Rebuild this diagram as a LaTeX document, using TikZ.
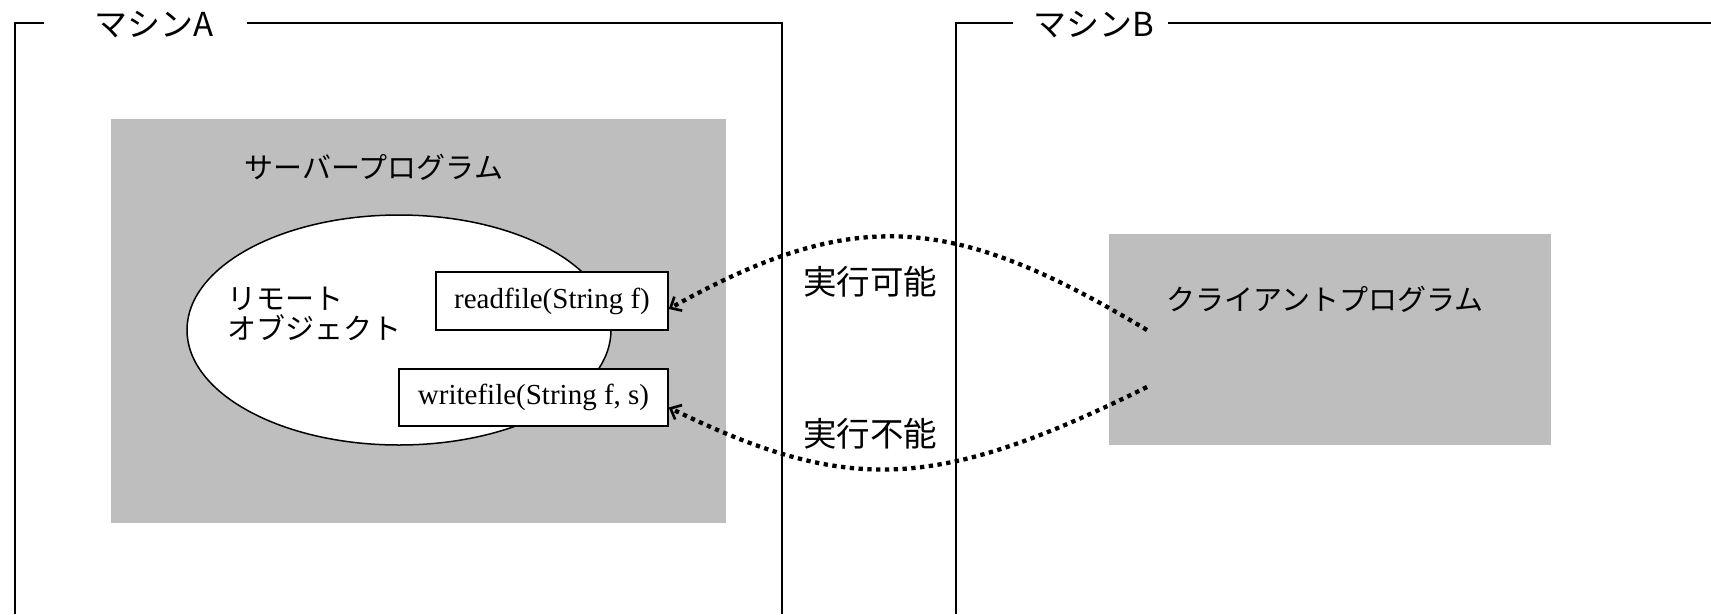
\documentclass[tikz,border=0pt]{standalone}
\usepackage{fontspec}
\setmainfont{Liberation Serif}
\newfontfamily\jp{Noto Sans CJK JP}
\usetikzlibrary{shapes.geometric,arrows.meta}
\definecolor{boxgray}{RGB}{190,190,190}
\tikzset{
  frameline/.style={line width=1.8pt},
  grayrect/.style={fill=boxgray, draw=none, inner sep=0pt},
  methodbox/.style={draw, fill=white, line width=1.5pt, inner sep=0pt, font=\fontsize{29}{32}\selectfont},
  jptext/.style={font=\jp\fontsize{29}{32}\selectfont, inner sep=0pt},
  titlejp/.style={font=\jp\fontsize{33}{36}\selectfont, inner sep=0pt},
  bigjp/.style={font=\jp\fontsize{33.5}{36}\selectfont, inner sep=0pt},
  dotcall/.style={line width=4.3pt, dash pattern=on 4.3pt off 4.5pt,
    -{Straight Barb[line width=2.6pt, length=9pt, width=16pt]}}
}
\begin{document}
\begin{tikzpicture}[x=1pt,y=-1pt]
\useasboundingbox (0,0) rectangle (1711,614);
% machine frames
\node[titlejp] (ma) at (154,25) {マシンA};
\node[titlejp] (mb) at (1094,25) {マシンB};
\draw[frameline] (44,23) -- (15,23) -- (15,614);
\draw[frameline] (247,23) -- (782,23) -- (782,614);
\draw[frameline] (1013,23) -- (956,23) -- (956,614);
\draw[frameline] (1168,23) -- (1711,23);
% server program
\node[grayrect, minimum width=615pt, minimum height=404pt] (server) at (418.5,321) {};
\node[jptext] (srvlabel) at (374,167) {サーバープログラム};
\node[ellipse, draw, fill=white, line width=1.5pt, minimum width=424pt, minimum height=230pt] (obj) at (399,330) {};
\node[jptext, anchor=west, align=left, font=\jp\fontsize{29}{29.5}\selectfont] (objlabel) at (227,314) {リモート\\オブジェクト};
\node[methodbox, minimum width=232pt, minimum height=58pt] (rf) at (552,301) {readfile(String f)};
\node[methodbox, minimum width=269pt, minimum height=57pt] (wf) at (533.5,397.5) {writefile(String f, s)};
% client program
\node[grayrect, minimum width=442pt, minimum height=211pt] (client) at (1330,339.5) {};
\node[jptext] (clabel) at (1325,299) {クライアントプログラム};
\coordinate (cs1) at (1147,330);
\coordinate (cs2) at (1147,387);
% calls
\draw[dotcall] (cs1) .. controls (955,215) and (856,204) .. ([yshift=-8pt]rf.east);
\draw[dotcall] (cs2) .. controls (935,492) and (847,494) .. ([yshift=-10pt]wf.east);
\node[bigjp] (ok) at (870,282) {実行可能};
\node[bigjp] (ng) at (870,434) {実行不能};
\end{tikzpicture}
\end{document}
